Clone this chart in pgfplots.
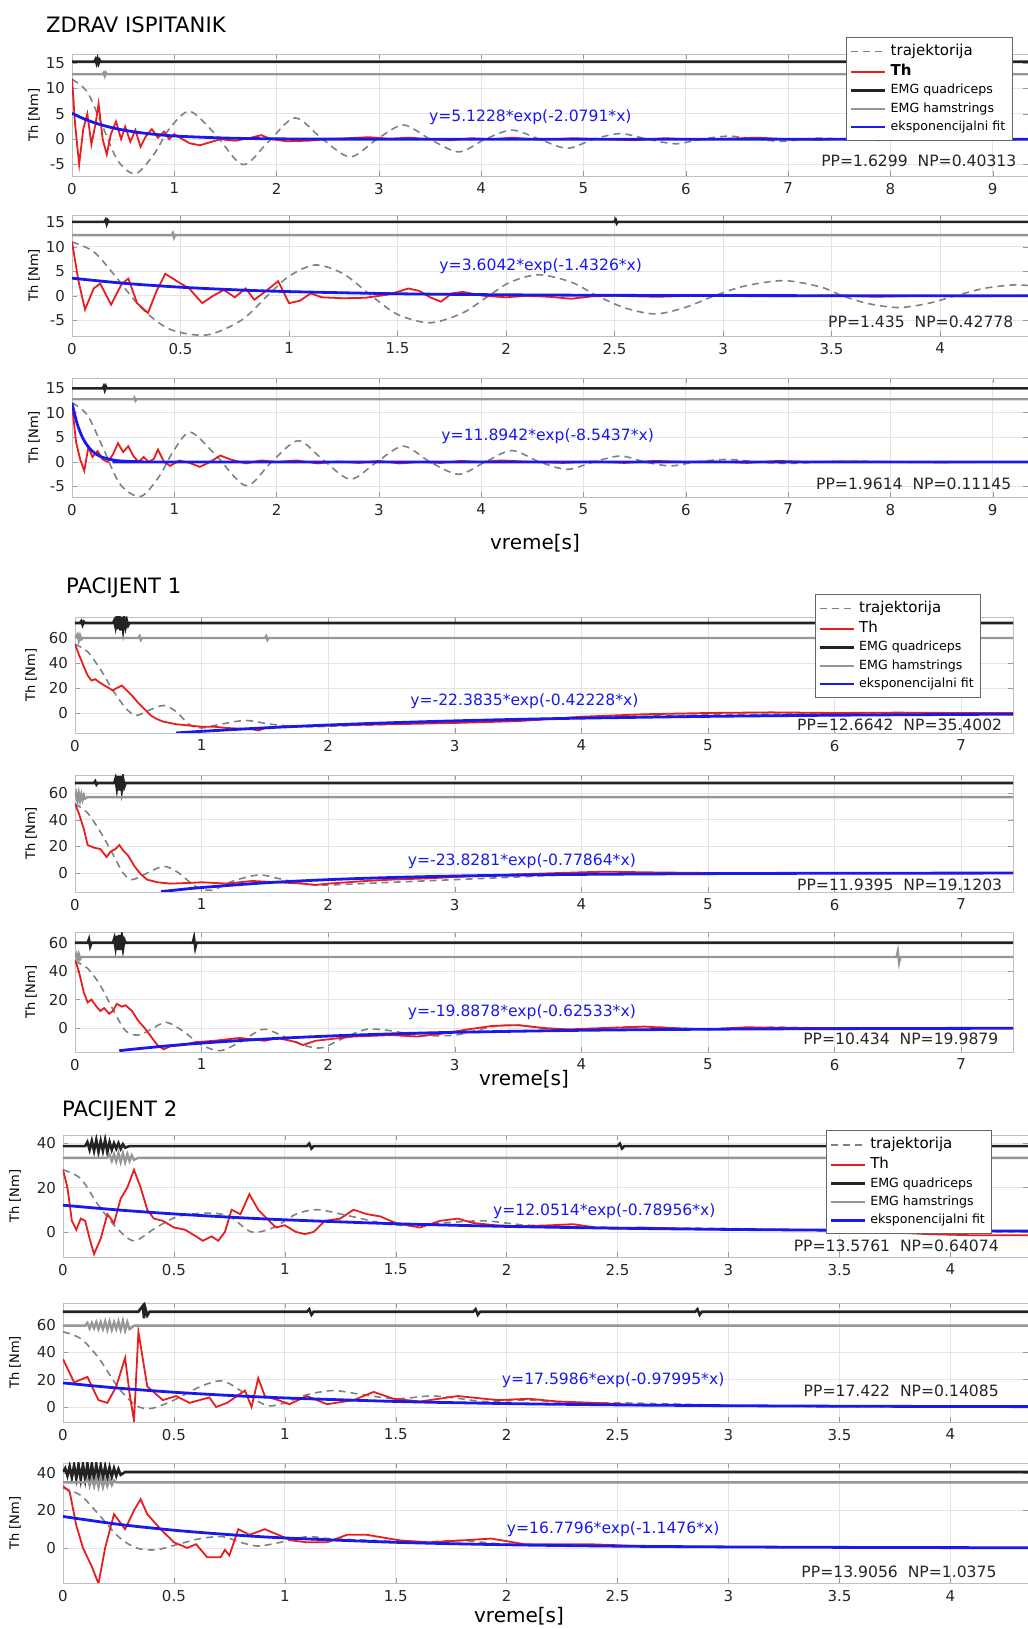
\documentclass[border=0pt]{standalone}
\usepackage{pgfplots}
\pgfplotsset{compat=1.18}
\usepackage{fontspec}
\setmainfont{DejaVu Sans}
\definecolor{trajc}{RGB}{125,130,135}
\definecolor{thc}{RGB}{232,30,30}
\definecolor{fitc}{RGB}{25,25,235}
\definecolor{quadc}{RGB}{35,35,35}
\definecolor{hamc}{RGB}{150,150,150}
\definecolor{gridc}{RGB}{228,228,228}
\tikzset{
  eq/.style={text=fitc, font=\fontsize{7.8}{9}\selectfont},
  pp/.style={text=black!85, font=\fontsize{7.8}{9}\selectfont, anchor=east},
}
\pgfplotsset{
  panel/.style={scale only axis, anchor=south west, xmin=0, grid=major,
    major grid style={gridc, line width=0.4pt},
    axis line style={black!25}, tick style={black!40}, tick align=inside,
    major tick length=2.5pt,
    ticklabel style={font=\fontsize{7.5}{8}\selectfont, text=black!85},
    /pgf/number format/assume math mode=true,
    ylabel={Th [Nm]},
    clip=true},
  ylab/.style={every axis y label/.style={at={(axis description cs:#1,0.5)}, rotate=90, anchor=center, font=\fontsize{6.5}{7}\selectfont}},
  leg/.style={legend style={at={(axis description cs:#1)}, anchor=north east, draw=black!60, fill=white, inner sep=1.5pt, row sep=-1.2pt, font=\fontsize{6.3}{7}\selectfont, legend cell align=left},
    legend image code/.code={\draw[##1] (0cm,0cm) -- (0.6cm,0cm);}},
  traj/.style={trajc, line width=0.8pt, dash pattern=on 3.5pt off 2.5pt, smooth, tension=0.5},
  th/.style={thc, line width=0.9pt},
  quad/.style={quadc, line width=1.3pt},
  ham/.style={hamc, line width=1.2pt},
  fit/.style={fitc, line width=1.4pt, smooth},
}
\begin{document}
\begin{tikzpicture}
\useasboundingbox (0,0) rectangle (514pt,814.5pt);

% ================= ZDRAV ISPITANIK 1
\begin{axis}[panel, ylab=-0.0397, at={(36pt,726.5pt)}, width=478pt, height=61pt,
  xmax=9.345, ymin=-7.25, ymax=16.8, xtick={0,1,...,9}, ytick={-5,0,5,10,15},
  leg={0.984,1.139}]
\addplot[traj] coordinates {(0,11.8) (0.15,9.3) (0.3,2.5) (0.45,-4.3) (0.62,-6.8) (0.8,-3) (0.95,2) (1.15,5.5) (1.4,1) (1.67,-5) (1.92,-0.5) (2.18,4.2) (2.45,0) (2.72,-3.5) (2.98,0) (3.24,2.8) (3.5,0) (3.78,-2.5) (4.04,0) (4.3,1.8) (4.57,0) (4.84,-1.8) (5.1,0) (5.36,1.1) (5.63,0) (5.9,-0.9) (6.15,0) (6.42,0.6) (6.7,0) (6.95,-0.4) (7.3,0.2) (7.8,-0.2) (8.5,0) (9.35,0)};
\addlegendentry{\fontsize{7.5}{8}\selectfont trajektorija}
\addplot[th] coordinates {(0,12) (0.03,3) (0.07,-5) (0.11,2) (0.15,5) (0.19,-1) (0.23,3) (0.26,7) (0.3,0) (0.34,-3) (0.38,1) (0.43,3.5) (0.48,0) (0.52,2.5) (0.57,-0.5) (0.62,1.8) (0.67,-1.5) (0.72,0.5) (0.78,2) (0.84,0.3) (0.9,1.5) (0.95,0) (1.0,1) (1.08,0) (1.15,-0.8) (1.25,-1.2) (1.35,-0.6) (1.45,0) (1.6,-0.3) (1.75,0.3) (1.85,0.8) (1.95,0) (2.1,-0.4) (2.3,-0.3) (2.5,0) (2.7,0.2) (2.9,0.4) (3.1,0.1) (3.3,0.3) (3.5,0) (3.7,-0.2) (3.9,0.2) (4.1,0) (4.3,0.3) (4.6,-0.1) (4.9,0.2) (5.2,0) (5.5,-0.2) (5.8,0.2) (6.1,-0.1) (6.4,0.1) (6.7,0.3) (7.0,0) (7.3,-0.1) (7.6,0.1) (8,0) (8.5,0.1) (9,-0.1) (9.35,0)};
\addlegendentry{\fontsize{7.5}{8}\selectfont\bfseries Th}
\addplot[quad] coordinates {(0,15.3) (0.22,15.3) (0.23,15.7) (0.24,15) (0.25,15.8) (0.26,15) (0.27,15.6) (0.28,15.3) (9.35,15.3)};
\addlegendentry{EMG quadriceps}
\addplot[ham] coordinates {(0,12.8) (0.3,12.8) (0.31,13.1) (0.32,12.5) (0.33,13.1) (0.34,12.8) (9.35,12.8)};
\addlegendentry{EMG hamstrings}
\addplot[fit] coordinates {(0,5.12) (0.1,4.16) (0.2,3.38) (0.3,2.75) (0.4,2.23) (0.5,1.81) (0.7,1.20) (1,0.64) (1.5,0.23) (2,0.08) (3,0.01) (9.35,0)};
\addlegendentry{eksponencijalni fit}
\node[eq] at (axis cs:4.48,4.4) {y=5.1228*exp(-2.0791*x)};
\node[pp] at (axis cs:9.3,-4.3) {PP=1.6299\ \ NP=0.40313};
\end{axis}

% ================= ZDRAV ISPITANIK 2
\begin{axis}[panel, ylab=-0.0397, at={(36pt,646.5pt)}, width=478pt, height=60.5pt,
  xmax=4.405, ymin=-8.2, ymax=16.5, xtick={0,0.5,...,4}, ytick={-5,0,5,10,15}]
\addplot[traj] coordinates {(0,11) (0.1,9) (0.2,4) (0.32,-2.5) (0.45,-6.8) (0.62,-8) (0.78,-5) (0.9,0) (1.0,4) (1.12,6.3) (1.25,4.5) (1.38,0) (1.5,-3.8) (1.65,-5.5) (1.8,-3.5) (1.92,0) (2.02,2.8) (2.15,4.3) (2.3,2.8) (2.42,0) (2.55,-2.5) (2.69,-3.7) (2.83,-2.3) (2.96,0) (3.1,2) (3.28,3.1) (3.45,1.8) (3.55,0) (3.67,-1.6) (3.81,-2.4) (3.95,-1.5) (4.07,0) (4.2,1.5) (4.33,2.2) (4.41,2.1)};
\addplot[th] coordinates {(0,11) (0.03,3) (0.06,-2.8) (0.1,1.5) (0.13,2.5) (0.18,-1.8) (0.23,2.5) (0.26,3.5) (0.3,-1.5) (0.35,-3.5) (0.39,1) (0.43,4.5) (0.49,2.8) (0.54,1.5) (0.6,-1.5) (0.65,0) (0.7,1.2) (0.75,-0.3) (0.8,1.5) (0.84,-0.8) (0.9,1.2) (0.95,3) (1.0,-1.5) (1.05,-1) (1.1,0.5) (1.15,-0.3) (1.25,-0.5) (1.35,-0.4) (1.45,0.2) (1.5,0.8) (1.55,1.5) (1.6,1) (1.65,-0.3) (1.7,-1.2) (1.75,0.5) (1.8,0.8) (1.9,0) (2.0,-0.3) (2.1,0) (2.2,-0.2) (2.3,-0.6) (2.4,-0.1) (2.5,0) (2.7,-0.2) (2.9,0.1) (3.1,0) (3.3,-0.1) (3.5,0.1) (3.7,-0.2) (3.9,0) (4.1,-0.1) (4.41,0)};
\addplot[quad] coordinates {(0,15.1) (0.15,15.1) (0.155,15.5) (0.16,14.7) (0.165,15.4) (0.17,15.1) (2.5,15.1) (2.505,15.5) (2.51,14.8) (2.515,15.1) (4.41,15.1)};
\addplot[ham] coordinates {(0,12.4) (0.46,12.4) (0.465,12.8) (0.47,11.9) (0.475,12.4) (4.41,12.4)};
\addplot[fit] coordinates {(0,3.60) (0.25,2.52) (0.5,1.76) (0.75,1.23) (1,0.86) (1.5,0.42) (2,0.21) (2.5,0.10) (3,0.05) (4,0.01) (4.41,0)};
\node[eq] at (axis cs:2.16,6.1) {y=3.6042*exp(-1.4326*x)};
\node[pp] at (axis cs:4.37,-5.3) {PP=1.435\ \ NP=0.42778};
\end{axis}

% ================= ZDRAV ISPITANIK 3
\begin{axis}[panel, ylab=-0.0397, at={(36pt,566pt)}, width=478pt, height=59.5pt,
  xmax=9.345, ymin=-7.1, ymax=17, xtick={0,1,...,9}, ytick={-5,0,5,10,15}]
\addplot[traj] coordinates {(0,12) (0.15,9.5) (0.3,3) (0.47,-4.5) (0.67,-7) (0.85,-3) (1.0,2.5) (1.16,6) (1.4,1.5) (1.7,-4.8) (1.95,0) (2.21,4.3) (2.45,0.5) (2.72,-3.5) (2.98,0) (3.24,3.2) (3.5,0) (3.78,-2.5) (4.04,0) (4.3,2.3) (4.57,0) (4.84,-1.5) (5.1,0) (5.36,1.2) (5.6,0) (5.85,-0.8) (6.1,0) (6.4,0.5) (6.7,0) (7,-0.3) (7.5,0.1) (8.2,0) (9.35,0)};
\addplot[th] coordinates {(0,11.5) (0.04,4) (0.08,0.5) (0.12,-1.8) (0.16,3) (0.2,1) (0.25,2.2) (0.3,0.5) (0.35,0) (0.4,1.5) (0.45,3.8) (0.5,2) (0.55,3.2) (0.6,1.2) (0.65,0) (0.7,1) (0.75,0) (0.8,0.6) (0.84,2.5) (0.9,0) (0.96,-0.8) (1.05,0.3) (1.15,-0.2) (1.25,-1) (1.35,0) (1.45,1.3) (1.55,0.5) (1.7,-0.3) (1.85,0.3) (2.0,0) (2.2,0.3) (2.4,-0.3) (2.6,0.1) (2.8,-0.2) (3.0,0.2) (3.2,-0.3) (3.4,0) (3.6,-0.2) (3.8,0.2) (4.0,0) (4.2,0.3) (4.5,0) (4.8,-0.2) (5.1,0.1) (5.4,-0.2) (5.7,0.2) (6.0,0) (6.3,0.1) (6.6,-0.2) (6.9,0.2) (7.2,0) (7.6,0.1) (8,0) (8.5,-0.1) (9,0) (9.35,0)};
\addplot[quad] coordinates {(0,14.9) (0.3,14.9) (0.31,15.3) (0.32,14.6) (0.33,15.3) (0.34,14.9) (9.35,14.9)};
\addplot[ham] coordinates {(0,12.7) (0.6,12.7) (0.61,13) (0.62,12.4) (0.63,12.7) (9.35,12.7)};
\addplot[fit] coordinates {(0,11.89) (0.05,7.77) (0.1,5.07) (0.15,3.31) (0.2,2.16) (0.25,1.41) (0.3,0.92) (0.4,0.39) (0.5,0.17) (0.7,0.03) (1,0) (9.35,0)};
\node[eq] at (axis cs:4.65,5.25) {y=11.8942*exp(-8.5437*x)};
\node[pp] at (axis cs:9.25,-4.4) {PP=1.9614\ \ NP=0.11145};
\end{axis}

% ================= PACIJENT 1 a
\begin{axis}[panel, ylab=-0.0469, at={(37.5pt,448pt)}, width=469pt, height=58pt,
  xmax=7.41, ymin=-16, ymax=76.8, xtick={0,1,...,7}, ytick={0,20,40,60},
  leg={0.966,1.198}]
\addplot[traj] coordinates {(0,55) (0.1,49) (0.2,35) (0.3,18) (0.4,4) (0.48,-2) (0.58,2) (0.7,6) (0.8,1) (0.9,-9) (1.0,-12) (1.15,-9) (1.35,-6) (1.55,-9) (1.8,-11) (2.2,-10) (2.6,-8.5) (3,-7.5) (3.5,-6) (4,-3.5) (4.5,-2.5) (5,-1.5) (6,-0.5) (7.41,0)};
\addlegendentry{\fontsize{7.5}{8}\selectfont trajektorija}
\addplot[th] coordinates {(0,55) (0.03,47) (0.07,37) (0.1,30) (0.13,26) (0.16,27) (0.2,24) (0.25,21) (0.3,18) (0.33,20) (0.37,22) (0.4,19) (0.45,14) (0.5,8) (0.55,3) (0.6,-2) (0.65,-5) (0.7,-7) (0.8,-9) (0.9,-10) (1.0,-11) (1.1,-11) (1.2,-12) (1.3,-12.5) (1.4,-13) (1.45,-14) (1.5,-12) (1.6,-11) (1.8,-10.5) (2.0,-10) (2.5,-9) (3,-8) (3.5,-6.5) (3.8,-4.5) (4,-3) (4.5,-1) (5,0) (5.5,0.5) (6,0) (6.5,0.3) (7,0) (7.41,0)};
\addlegendentry{\fontsize{7.5}{8}\selectfont Th}
\addplot[quad] coordinates {(0,72) (0.04,72) (0.05,73.5) (0.06,70.5) (0.07,73) (0.08,72) (0.3,72) (0.31,74) (0.32,69) (0.33,77) (0.34,67) (0.35,78) (0.36,66) (0.37,77) (0.38,67) (0.39,76) (0.4,69) (0.41,74) (0.42,70) (0.43,72) (7.41,72)};
\addlegendentry{EMG quadriceps}
\addplot[ham] coordinates {(0,60) (0.02,63) (0.03,58) (0.04,62) (0.05,59) (0.06,60) (0.5,60) (0.51,61.5) (0.52,58.5) (0.53,60) (1.5,60) (1.51,61.5) (1.52,58.5) (1.53,60) (7.41,60)};
\addlegendentry{EMG hamstrings}
\addplot[fit] coordinates {(0.8,-15.96) (1,-14.68) (1.5,-11.89) (2,-9.62) (2.5,-7.79) (3,-6.30) (3.5,-5.10) (4,-4.13) (5,-2.71) (6,-1.78) (7,-1.16) (7.41,-0.98)};
\addlegendentry{eksponencijalni fit}
\node[eq] at (axis cs:3.55,9.6) {y=-22.3835*exp(-0.42228*x)};
\node[pp] at (axis cs:7.38,-9.6) {PP=12.6642\ \ NP=35.4002};
\end{axis}

% ================= PACIJENT 1 b
\begin{axis}[panel, ylab=-0.0469, at={(37.5pt,368.5pt)}, width=469pt, height=58.5pt,
  xmax=7.41, ymin=-14.3, ymax=73.7, xtick={0,1,...,7}, ytick={0,20,40,60}]
\addplot[traj] coordinates {(0,52) (0.1,45) (0.2,31) (0.3,14) (0.38,0) (0.45,-5) (0.55,-1) (0.7,5) (0.82,0) (0.95,-10) (1.08,-13) (1.25,-6) (1.45,-1.5) (1.6,-4) (1.8,-8) (2.0,-9) (2.5,-7) (3,-5) (3.5,-3) (4,-1) (5,0) (7.41,0)};
\addplot[th] coordinates {(0,52) (0.03,45) (0.07,33) (0.1,21) (0.15,19) (0.2,18) (0.25,12) (0.28,16) (0.32,18) (0.35,21) (0.38,17) (0.42,13) (0.47,5) (0.52,-1) (0.57,-5) (0.65,-7) (0.75,-8) (0.9,-7.5) (1.0,-7) (1.2,-8) (1.4,-6) (1.6,-7) (1.8,-8) (1.9,-9) (2.0,-8) (2.3,-6) (2.5,-5) (2.8,-4) (3.0,-3) (3.5,-1) (4,0.5) (4.2,1) (4.5,0.5) (5,0) (6,0) (7.41,0)};
\addplot[quad] coordinates {(0,67.7) (0.15,67.7) (0.16,69) (0.17,66.5) (0.18,67.7) (0.31,67.7) (0.32,71) (0.33,64) (0.34,73) (0.35,62) (0.36,73) (0.37,63) (0.38,71) (0.39,65) (0.4,67.7) (7.41,67.7)};
\addplot[ham] coordinates {(0,57) (0.01,60) (0.02,54) (0.03,60) (0.04,54.5) (0.05,59) (0.06,55) (0.07,58.5) (0.08,56) (0.1,57) (7.41,57)};
\addplot[fit] coordinates {(0.68,-14.0) (0.8,-12.8) (1,-10.94) (1.5,-7.41) (2,-5.02) (2.5,-3.40) (3,-2.30) (3.5,-1.56) (4,-1.06) (5,-0.49) (6,-0.22) (7.41,-0.07)};
\node[eq] at (axis cs:3.53,9) {y=-23.8281*exp(-0.77864*x)};
\node[pp] at (axis cs:7.38,-9) {PP=11.9395\ \ NP=19.1203};
\end{axis}

% ================= PACIJENT 1 c
\begin{axis}[panel, ylab=-0.0469, at={(37.5pt,288.5pt)}, width=469pt, height=60pt,
  xmax=7.41, ymin=-16.9, ymax=67.6, xtick={0,1,...,7}, ytick={0,20,40,60}]
\addplot[traj] coordinates {(0,47) (0.1,42) (0.2,30) (0.3,13) (0.4,-2) (0.5,-5) (0.6,-1) (0.72,4) (0.85,-2) (1.0,-12) (1.15,-16) (1.3,-10) (1.48,-1) (1.6,-4) (1.8,-12) (1.95,-14) (2.1,-8) (2.3,-1) (2.5,-2) (2.7,-5) (3,-5) (3.3,1) (3.5,2) (3.8,-1) (4.2,0) (4.5,1) (5,-1) (5.5,0.5) (6,0) (7.41,0)};
\addplot[th] coordinates {(0,48) (0.03,40) (0.07,25) (0.1,18) (0.13,20) (0.17,15) (0.2,12) (0.23,14) (0.27,10) (0.3,12) (0.33,17) (0.37,15) (0.4,16) (0.45,12) (0.5,5) (0.55,0) (0.6,-6) (0.65,-12) (0.7,-15) (0.75,-13) (0.85,-12) (0.95,-10) (1.1,-9) (1.3,-7) (1.5,-9) (1.6,-7) (1.75,-10) (1.8,-12) (1.9,-9) (2.0,-8) (2.2,-6) (2.5,-5) (2.7,-6) (2.9,-4) (3.1,-1) (3.3,1.5) (3.5,2) (3.7,0) (3.9,-1) (4.2,0) (4.5,1) (4.7,0) (5.0,-1) (5.3,0.5) (5.7,0) (6,0) (7.41,0)};
\addplot[quad] coordinates {(0,60) (0.1,60) (0.11,62.5) (0.12,57.5) (0.13,60) (0.3,60) (0.31,63) (0.32,57) (0.33,65) (0.34,55) (0.35,65.5) (0.36,55) (0.37,64) (0.38,56) (0.39,62) (0.4,60) (0.93,60) (0.94,63.5) (0.95,56.5) (0.96,60) (7.41,60)};
\addplot[ham] coordinates {(0,50) (0.01,52) (0.02,48) (0.03,52) (0.04,48.5) (0.05,50) (6.49,50) (6.5,54) (6.51,46) (6.52,50) (7.41,50)};
\addplot[fit] coordinates {(0.35,-15.97) (0.5,-14.55) (0.75,-12.44) (1,-10.64) (1.5,-7.78) (2,-5.69) (2.5,-4.16) (3,-3.04) (4,-1.63) (5,-0.87) (6,-0.47) (7.41,-0.19)};
\node[eq] at (axis cs:3.53,11.3) {y=-19.8878*exp(-0.62533*x)};
\node[pp] at (axis cs:7.35,-7.7) {PP=10.434\ \ NP=19.9879};
\end{axis}

% ================= PACIJENT 2 a
\begin{axis}[panel, ylab=-0.0497, at={(31.5pt,186pt)}, width=482.5pt, height=61pt,
  xmax=4.35, ymin=-11.3, ymax=43.7, xtick={0,0.5,...,4}, ytick={0,20,40},
  leg={0.963,1.04}]
\addplot[traj] coordinates {(0,28) (0.08,24) (0.16,12) (0.24,2) (0.32,-4) (0.42,2) (0.52,7) (0.65,8.5) (0.75,7) (0.85,0) (0.95,2) (1.05,8) (1.15,10) (1.3,7) (1.5,3) (1.7,4) (1.9,5) (2.1,3) (2.5,2) (3,1.5) (3.5,0.5) (4.35,0)};
\addlegendentry{\fontsize{7.5}{8}\selectfont trajektorija}
\addplot[th] coordinates {(0,28) (0.02,20) (0.04,5) (0.06,1) (0.08,6) (0.1,5) (0.12,-3) (0.14,-10) (0.17,-3) (0.2,8) (0.23,4) (0.26,15) (0.29,20) (0.32,28) (0.35,20) (0.38,10) (0.41,6) (0.45,5) (0.5,2) (0.55,1) (0.6,-2) (0.63,-4) (0.67,-2) (0.7,-4) (0.73,0) (0.76,10) (0.8,8) (0.84,17) (0.88,10) (0.92,6) (0.96,2) (1.0,3) (1.05,0) (1.09,-1) (1.13,0) (1.18,5) (1.25,6) (1.31,10) (1.37,8) (1.43,7) (1.5,4) (1.55,3) (1.61,2) (1.7,5) (1.78,6) (1.85,4) (1.95,3) (2.05,2.5) (2.2,3) (2.3,3.5) (2.4,2) (2.5,1.5) (2.6,2) (2.8,1.5) (3.0,1) (3.3,1) (3.6,0.5) (3.9,-1) (4.1,-1.5) (4.35,-1.5)};
\addlegendentry{\fontsize{7.5}{8}\selectfont Th}
\addplot[quad] coordinates {(0,38.7) (0.1,38.7) (0.11,40.5) (0.12,37) (0.13,41) (0.14,36.5) (0.15,41.5) (0.16,36) (0.17,41) (0.18,36.5) (0.19,41.5) (0.2,36) (0.21,40.5) (0.22,37) (0.23,40) (0.24,37.5) (0.25,40) (0.26,37.5) (0.27,39.5) (0.28,38) (0.3,38.7) (1.1,38.7) (1.11,39.8) (1.12,37.6) (1.13,38.7) (2.5,38.7) (2.51,39.8) (2.52,37.6) (2.53,38.7) (4.35,38.7)};
\addlegendentry{EMG quadriceps}
\addplot[ham] coordinates {(0,33.4) (0.2,33.4) (0.21,34.8) (0.22,32) (0.23,35) (0.24,31.8) (0.25,35.5) (0.26,31.5) (0.27,35.5) (0.28,31.5) (0.29,35) (0.3,32) (0.31,34.5) (0.32,32.5) (0.34,33.4) (4.35,33.4)};
\addlegendentry{EMG hamstrings}
\addplot[fit] coordinates {(0,12.05) (0.25,9.89) (0.5,8.12) (0.75,6.67) (1,5.47) (1.5,3.69) (2,2.49) (2.5,1.67) (3,1.13) (3.5,0.76) (4,0.51) (4.35,0.39)};
\addlegendentry{eksponencijalni fit}
\node[eq] at (axis cs:2.44,9.5) {y=12.0514*exp(-0.78956*x)};
\node[pp] at (axis cs:4.25,-6.3) {PP=13.5761\ \ NP=0.64074};
\end{axis}

% ================= PACIJENT 2 b
\begin{axis}[panel, ylab=-0.0497, at={(31.5pt,103.5pt)}, width=482.5pt, height=59.5pt,
  xmax=4.35, ymin=-11, ymax=76.1, xtick={0,0.5,...,4}, ytick={0,20,40,60}]
\addplot[traj] coordinates {(0,55) (0.08,50) (0.16,36) (0.25,14) (0.33,1) (0.4,-1) (0.5,5) (0.62,15) (0.72,19) (0.82,10) (0.92,1) (1.0,3) (1.1,9) (1.22,12) (1.35,9) (1.5,6) (1.65,8) (1.75,7) (1.9,4) (2.1,5) (2.3,3) (2.5,3) (2.8,2) (3.2,0.5) (4.35,0)};
\addplot[th] coordinates {(0,35) (0.05,18) (0.11,22) (0.16,5) (0.2,3) (0.24,15) (0.28,36) (0.3,10) (0.32,-10) (0.34,55) (0.38,15) (0.45,5) (0.51,8) (0.57,3) (0.66,7) (0.69,0) (0.74,3) (0.82,12) (0.85,0) (0.88,21) (0.91,8) (0.97,5) (1.02,2) (1.1,8) (1.19,2) (1.31,5) (1.4,11) (1.49,6) (1.61,4) (1.78,8) (1.96,5) (2.1,6) (2.23,4) (2.4,3) (2.52,2) (2.6,1)};
\addplot[quad] coordinates {(0,69.7) (0.34,69.7) (0.35,72) (0.36,74) (0.365,65) (0.37,73) (0.38,67) (0.39,69.7) (1.1,69.7) (1.11,71.5) (1.12,67.5) (1.13,69.7) (1.85,69.7) (1.86,71.5) (1.87,67.5) (1.88,69.7) (2.85,69.7) (2.86,71.5) (2.87,67.5) (2.88,69.7) (4.35,69.7)};
\addplot[ham] coordinates {(0,59.5) (0.1,59.5) (0.11,61.5) (0.12,57.5) (0.13,61.5) (0.14,57.5) (0.15,62) (0.16,57) (0.17,62) (0.18,57) (0.19,62.5) (0.2,56.5) (0.21,62.5) (0.22,56.5) (0.23,62) (0.24,57) (0.25,62.5) (0.26,56.5) (0.27,63) (0.28,56) (0.29,62) (0.3,57) (0.32,59.5) (4.35,59.5)};
\addplot[fit] coordinates {(0,17.6) (0.25,13.78) (0.5,10.78) (0.75,8.44) (1,6.61) (1.5,4.05) (2,2.48) (2.5,1.52) (3,0.93) (3.5,0.57) (4,0.35) (4.35,0.25)};
\node[eq] at (axis cs:2.48,19.8) {y=17.5986*exp(-0.97995*x)};
\node[pp] at (axis cs:4.25,11.7) {PP=17.422\ \ NP=0.14085};
\end{axis}

% ================= PACIJENT 2 c
\begin{axis}[panel, ylab=-0.0497, at={(31.5pt,23pt)}, width=482.5pt, height=60pt,
  xmax=4.35, ymin=-18.7, ymax=45.3, xtick={0,0.5,...,4}, ytick={0,20,40}]
\addplot[traj] coordinates {(0,32) (0.08,28) (0.16,18) (0.25,6) (0.33,0) (0.42,-1) (0.52,2) (0.62,5) (0.72,6) (0.8,3) (0.88,1) (0.98,3) (1.1,6) (1.2,5) (1.4,4) (1.6,3) (1.8,4) (2.0,2) (2.5,1) (3,0.5) (4.35,0)};
\addplot[th] coordinates {(0,33) (0.03,30) (0.06,12) (0.09,0) (0.13,-10) (0.16,-19) (0.19,0) (0.23,18) (0.28,10) (0.32,20) (0.35,26) (0.38,18) (0.44,10) (0.5,3) (0.56,0) (0.6,2) (0.65,-5) (0.71,-5) (0.73,-1) (0.75,-4) (0.79,10) (0.84,7) (0.91,10) (0.97,7) (1.03,4) (1.1,3) (1.19,3) (1.28,7) (1.37,7) (1.52,4) (1.65,3) (1.8,4) (1.93,5) (2.08,2) (2.37,2) (2.6,1) (2.9,0.5)};
\addplot[quad] coordinates {(0,40.5) (0.01,42.5) (0.02,38.5) (0.03,43.5) (0.04,37.5) (0.05,44) (0.06,37) (0.07,44.5) (0.08,36.5) (0.09,44.5) (0.1,36.5) (0.11,45) (0.12,36) (0.13,45) (0.14,36) (0.15,44.5) (0.16,36.5) (0.17,44) (0.18,37) (0.19,43.5) (0.2,37.5) (0.21,43) (0.22,38) (0.23,42.5) (0.24,38.5) (0.25,42) (0.26,39) (0.28,40.5) (4.35,40.5)};
\addplot[ham] coordinates {(0,35) (0.1,35) (0.11,36.5) (0.12,33.5) (0.13,37) (0.14,33) (0.15,37.5) (0.16,32.5) (0.17,37.5) (0.18,32.5) (0.19,37) (0.2,33) (0.21,36.5) (0.22,33.5) (0.23,36) (0.24,35) (4.35,35)};
\addplot[fit] coordinates {(0,16.78) (0.25,12.6) (0.5,9.45) (0.75,7.09) (1,5.32) (1.5,3.00) (2,1.69) (2.5,0.95) (3,0.54) (3.5,0.30) (4,0.17) (4.35,0.11)};
\node[eq] at (axis cs:2.48,10.1) {y=16.7796*exp(-1.1476*x)};
\node[pp] at (axis cs:4.24,-12.8) {PP=13.9056\ \ NP=1.0375};
\end{axis}

% titles and x labels
\node[anchor=west, font=\fontsize{10.6}{12}\selectfont] at (19.5pt,802.3pt) {ZDRAV ISPITANIK};
\node[anchor=west, font=\fontsize{10.6}{12}\selectfont] at (29.5pt,520.5pt) {PACIJENT 1};
\node[anchor=west, font=\fontsize{10.6}{12}\selectfont] at (27.5pt,259pt) {PACIJENT 2};
\node[font=\fontsize{10}{12}\selectfont] at (267.5pt,543pt) {vreme[s]};
\node[font=\fontsize{10}{12}\selectfont] at (262pt,275pt) {vreme[s]};
\node[font=\fontsize{10}{12}\selectfont] at (259.5pt,6.5pt) {vreme[s]};
\end{tikzpicture}
\end{document}
